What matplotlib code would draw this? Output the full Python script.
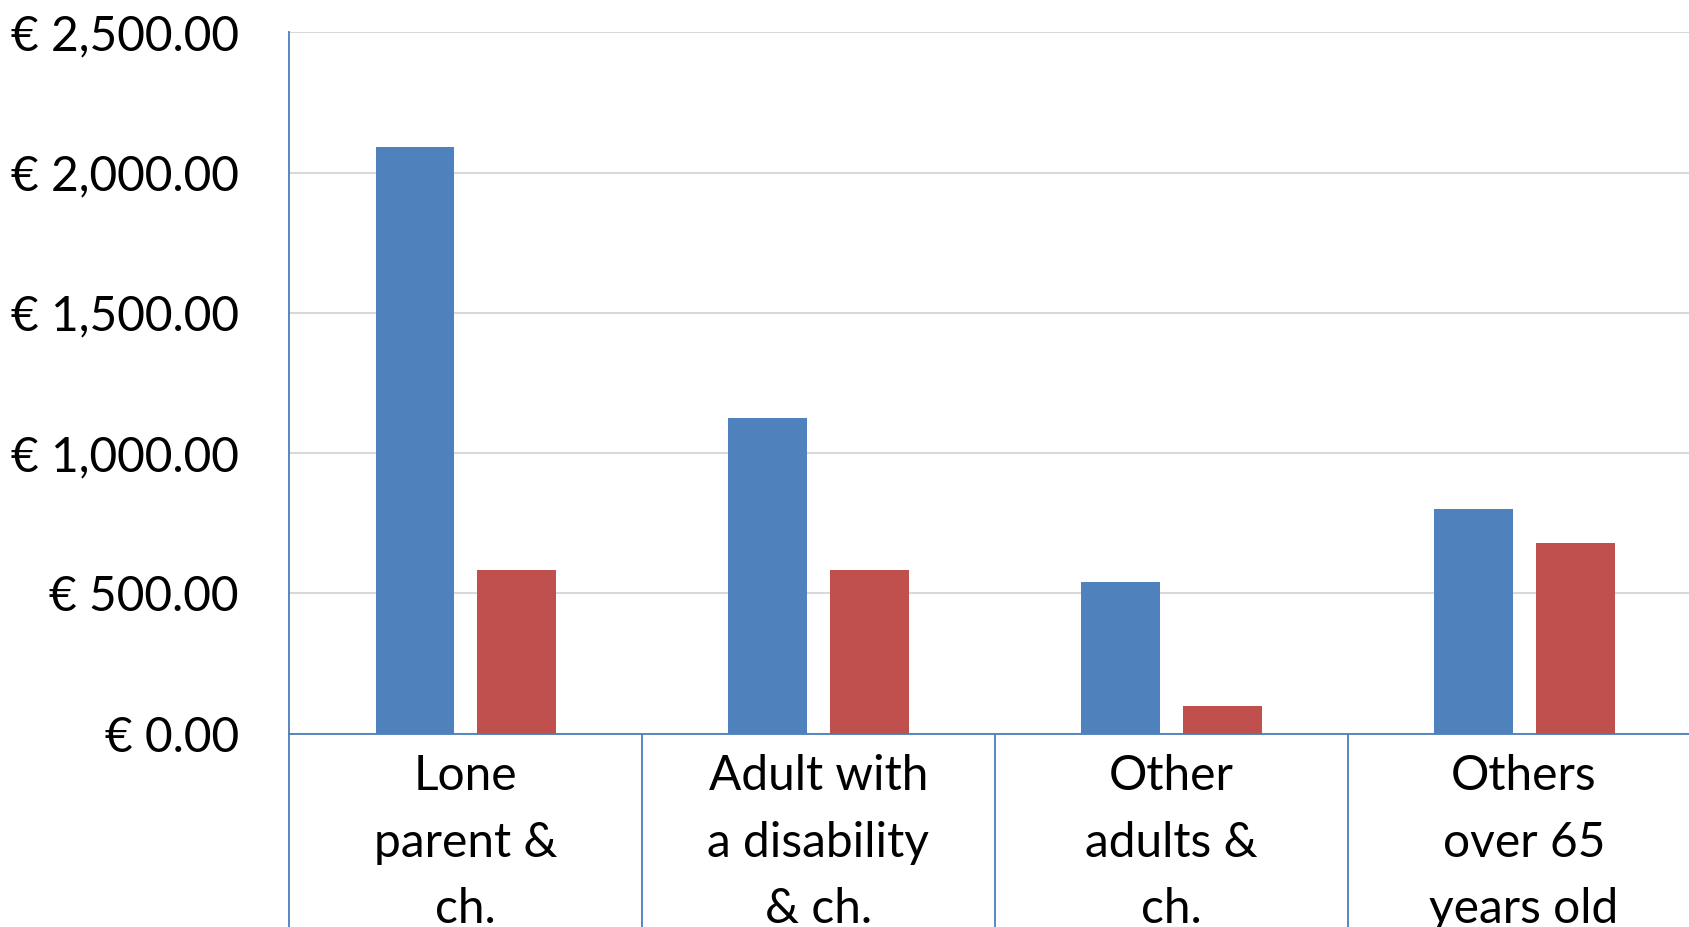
import matplotlib.pyplot as plt
import numpy as np

# Категории домохозяйств и суммы по двум сериям (евро)
categories = ['Lone\nparent &\nch.', 'Adult with\na disability\n& ch.',
              'Other\nadults &\nch.', 'Others\nover 65\nyears old']
series_blue = [2090, 1125, 540, 800]
series_red = [585, 585, 100, 680]
y_ticks = [0, 500, 1000, 1500, 2000, 2500]

plt.rcParams['font.family'] = ['Lato', 'DejaVu Sans']

fig = plt.figure(figsize=(16.89, 9.27), dpi=100)
ax = fig.add_axes([0.1711, 0.2086, 0.8357, 0.7565])

x = np.arange(len(categories))
w = 0.223
ax.bar(x - 0.143, series_blue, w, color='#4f81bd', zorder=3)
ax.bar(x + 0.145, series_red, w, color='#c0504d', zorder=3)

ax.set_xlim(-0.5, len(categories) - 0.5)
ax.set_ylim(0, 2500)
ax.set_yticks(y_ticks)
ax.set_yticklabels(['€ {:,.2f}'.format(v) for v in y_ticks], fontsize=34.5)
ax.tick_params(axis='y', length=0, pad=36)
ax.grid(axis='y', color='#d9d9d9', linewidth=1.5, zorder=0)

# подписи категорий по центру, разделители — длинные минорные риски
ax.set_xticks(x)
ax.set_xticklabels(categories, fontsize=34.5, linespacing=1.62)
ax.tick_params(axis='x', which='major', length=0, pad=15)
ax.set_xticks(np.arange(-0.5, len(categories)), minor=True)
ax.tick_params(axis='x', which='minor', length=200, width=1.3,
               color='#4a7ebb', direction='out')

for s in ['top', 'right']:
    ax.spines[s].set_visible(False)
for s in ['left', 'bottom']:
    ax.spines[s].set_color('#4a7ebb')
    ax.spines[s].set_linewidth(1.3)

plt.savefig('out.png', dpi=100)
